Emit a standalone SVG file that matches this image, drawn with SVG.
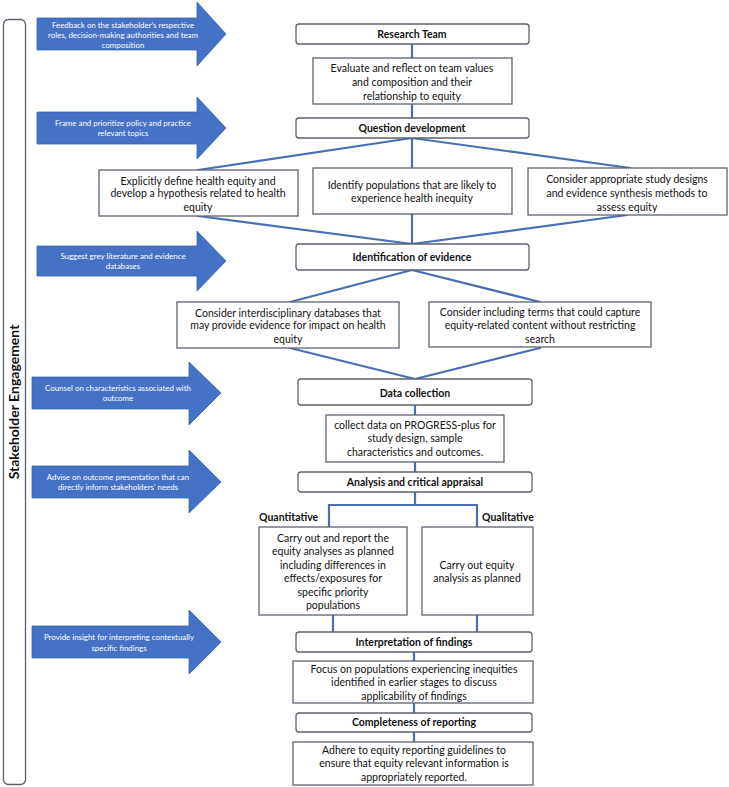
<svg xmlns="http://www.w3.org/2000/svg" width="729" height="787" viewBox="0 0 729 787">
<defs>
<style>
.bg{fill:#ffffff}
.box{fill:#ffffff;stroke:#5b6270;stroke-width:1.3}
.arr{fill:#4472C4;stroke:#3b64ad;stroke-width:0.8}
.con{stroke:#4a6fb5;stroke-width:2.2;fill:none;stroke-linecap:round}
.t{font-family:Lato,"Liberation Sans",sans-serif;font-size:10.5px;fill:#111;text-anchor:middle}
.h{font-family:Lato,"Liberation Sans",sans-serif;font-size:10.5px;font-weight:bold;fill:#111;text-anchor:middle}
.a{font-family:Lato,"Liberation Sans",sans-serif;font-size:7.9px;fill:#ffffff;text-anchor:middle}
.s{font-family:Lato,"Liberation Sans",sans-serif;font-size:14px;font-weight:bold;fill:#111;text-anchor:middle}
</style>
</defs>
<rect class="bg" x="0" y="0" width="729" height="787"/>

<g id="stakeholder-engagement">
<rect class="box" x="3.5" y="19.5" width="22" height="765" rx="5"/>
<text class="s" transform="translate(19,402) rotate(-90)">Stakeholder Engagement</text>
</g>

<g id="arrow-1">
<path class="arr" d="M37,18 H197 V2 L226,34 L197,66 V50 H37 Z"/>
<text class="a" x="123" y="27.5">Feedback on the stakeholder’s respective</text>
<text class="a" x="123" y="37.5">roles, decision-making authorities and team</text>
<text class="a" x="123" y="47.5">composition</text>
</g>
<g id="arrow-2">
<path class="arr" d="M37,112 H197 V97 L226,128 L197,159 V144 H37 Z"/>
<text class="a" x="123" y="126">Frame and prioritize policy and practice</text>
<text class="a" x="123" y="136">relevant topics</text>
</g>
<g id="arrow-3">
<path class="arr" d="M37,246 H197 V231 L226,261 L197,291 V276 H37 Z"/>
<text class="a" x="123" y="259">Suggest grey literature and evidence</text>
<text class="a" x="123" y="269">databases</text>
</g>
<g id="arrow-4">
<path class="arr" d="M32,377 H189 V362 L221,393 L189,425 V409 H32 Z"/>
<text class="a" x="118" y="391">Counsel on characteristics associated with</text>
<text class="a" x="118" y="401">outcome</text>
</g>
<g id="arrow-5">
<path class="arr" d="M32,466 H189 V450 L221,482 L189,513 V498 H32 Z"/>
<text class="a" x="118" y="480">Advise on outcome presentation that can</text>
<text class="a" x="118" y="490">directly inform stakeholders’ needs</text>
</g>
<g id="arrow-6">
<path class="arr" d="M32,626 H189 V610 L221,642 L189,674 V658 H32 Z"/>
<text class="a" x="119" y="640">Provide insight for interpreting contextually</text>
<text class="a" x="119" y="651">specific findings</text>
</g>

<g id="connectors">
<line class="con" x1="412" y1="44" x2="412" y2="58"/>
<line class="con" x1="412" y1="104" x2="412" y2="118"/>
<line class="con" x1="412" y1="138" x2="198" y2="170"/>
<line class="con" x1="412" y1="138" x2="412" y2="168"/>
<line class="con" x1="412" y1="138" x2="630" y2="168"/>
<line class="con" x1="198" y1="216" x2="412" y2="244"/>
<line class="con" x1="412" y1="214" x2="412" y2="244"/>
<line class="con" x1="627" y1="215" x2="412" y2="244"/>
<line class="con" x1="412" y1="270" x2="290" y2="302"/>
<line class="con" x1="412" y1="270" x2="540" y2="302"/>
<line class="con" x1="290" y1="348" x2="415" y2="379"/>
<line class="con" x1="540" y1="348" x2="415" y2="379"/>
<line class="con" x1="415" y1="405" x2="415" y2="415"/>
<line class="con" x1="415" y1="462" x2="415" y2="472"/>
<polyline class="con" points="415,492 415,505"/>
<polyline class="con" points="329,527 329,505 477,505 477,527"/>
<line class="con" x1="333" y1="615" x2="333" y2="632"/>
<line class="con" x1="477" y1="615" x2="477" y2="632"/>
<line class="con" x1="414" y1="652" x2="414" y2="661"/>
<line class="con" x1="414" y1="703" x2="414" y2="713"/>
<line class="con" x1="414" y1="732" x2="414" y2="742"/>
</g>

<g id="research-team">
<rect class="box" x="296" y="24" width="233" height="20" rx="3"/>
<text class="h" x="412" y="37.5">Research Team</text>
</g>
<g id="evaluate">
<rect class="box" x="313" y="58" width="199" height="46"/>
<text class="t" x="412" y="71.5">Evaluate and reflect on team values</text>
<text class="t" x="412" y="85.5">and composition and their</text>
<text class="t" x="412" y="99.5">relationship to equity</text>
</g>
<g id="question-development">
<rect class="box" x="296" y="118" width="233" height="20" rx="3"/>
<text class="h" x="412" y="131.5">Question development</text>
</g>
<g id="define-equity">
<rect class="box" x="99" y="170" width="199" height="46"/>
<text class="t" x="198" y="184.5">Explicitly define health equity and</text>
<text class="t" x="198" y="197">develop a hypothesis related to health</text>
<text class="t" x="198" y="210.5">equity</text>
</g>
<g id="identify-populations">
<rect class="box" x="313" y="168" width="199" height="46"/>
<text class="t" x="412" y="188.5">Identify populations that are likely to</text>
<text class="t" x="412" y="202">experience health inequity</text>
</g>
<g id="study-designs">
<rect class="box" x="528" y="168" width="199" height="47"/>
<text class="t" x="627" y="182.5">Consider appropriate study designs</text>
<text class="t" x="627" y="196.5">and evidence synthesis methods to</text>
<text class="t" x="627" y="210.5">assess equity</text>
</g>
<g id="identification-of-evidence">
<rect class="box" x="296" y="244" width="233" height="26" rx="3"/>
<text class="h" x="412" y="260.5">Identification of evidence</text>
</g>
<g id="interdisciplinary-databases">
<rect class="box" x="177" y="302" width="222" height="46"/>
<text class="t" x="288" y="316.5">Consider interdisciplinary databases that</text>
<text class="t" x="288" y="329">may provide evidence for impact on health</text>
<text class="t" x="288" y="342.5">equity</text>
</g>
<g id="including-terms">
<rect class="box" x="429" y="302" width="222" height="45"/>
<text class="t" x="540" y="316">Consider including terms that could capture</text>
<text class="t" x="540" y="329">equity-related content without restricting</text>
<text class="t" x="540" y="342.5">search</text>
</g>
<g id="data-collection">
<rect class="box" x="298" y="379" width="234" height="26" rx="3"/>
<text class="h" x="415" y="396.5">Data collection</text>
</g>
<g id="progress-plus">
<rect class="box" x="326" y="415" width="178" height="47"/>
<text class="t" x="415" y="428.5">collect data on PROGRESS-plus for</text>
<text class="t" x="415" y="441.5">study design, sample</text>
<text class="t" x="415" y="455.5">characteristics and outcomes.</text>
</g>
<g id="analysis">
<rect class="box" x="298" y="472" width="234" height="20" rx="3"/>
<text class="h" x="415" y="485.5">Analysis and critical appraisal</text>
</g>
<g id="quantitative">
<text class="h" x="259" y="520.5" style="text-anchor:start">Quantitative</text>
<rect class="box" x="259" y="527" width="148" height="88"/>
<text class="t" x="333" y="541.5">Carry out and report the</text>
<text class="t" x="333" y="555">equity analyses as planned</text>
<text class="t" x="333" y="568.5">including differences in</text>
<text class="t" x="333" y="582">effects/exposures for</text>
<text class="t" x="333" y="595.5">specific priority</text>
<text class="t" x="333" y="609">populations</text>
</g>
<g id="qualitative">
<text class="h" x="482" y="520.5" style="text-anchor:start">Qualitative</text>
<rect class="box" x="422" y="527" width="111" height="88"/>
<text class="t" x="477" y="568.5">Carry out equity</text>
<text class="t" x="477" y="582">analysis as planned</text>
</g>
<g id="interpretation">
<rect class="box" x="296" y="632" width="236" height="20" rx="3"/>
<text class="h" x="414" y="645.5">Interpretation of findings</text>
</g>
<g id="focus-populations">
<rect class="box" x="293" y="661" width="240" height="42"/>
<text class="t" x="414" y="672.5">Focus on populations experiencing inequities</text>
<text class="t" x="414" y="686">identified in earlier stages to discuss</text>
<text class="t" x="414" y="699.5">applicability of findings</text>
</g>
<g id="completeness">
<rect class="box" x="296" y="713" width="236" height="19" rx="3"/>
<text class="h" x="414" y="726">Completeness of reporting</text>
</g>
<g id="adhere-guidelines">
<rect class="box" x="293" y="742" width="240" height="43"/>
<text class="t" x="414" y="753.5">Adhere to equity reporting guidelines to</text>
<text class="t" x="414" y="767">ensure that equity relevant information is</text>
<text class="t" x="414" y="780.5">appropriately reported.</text>
</g>
</svg>
